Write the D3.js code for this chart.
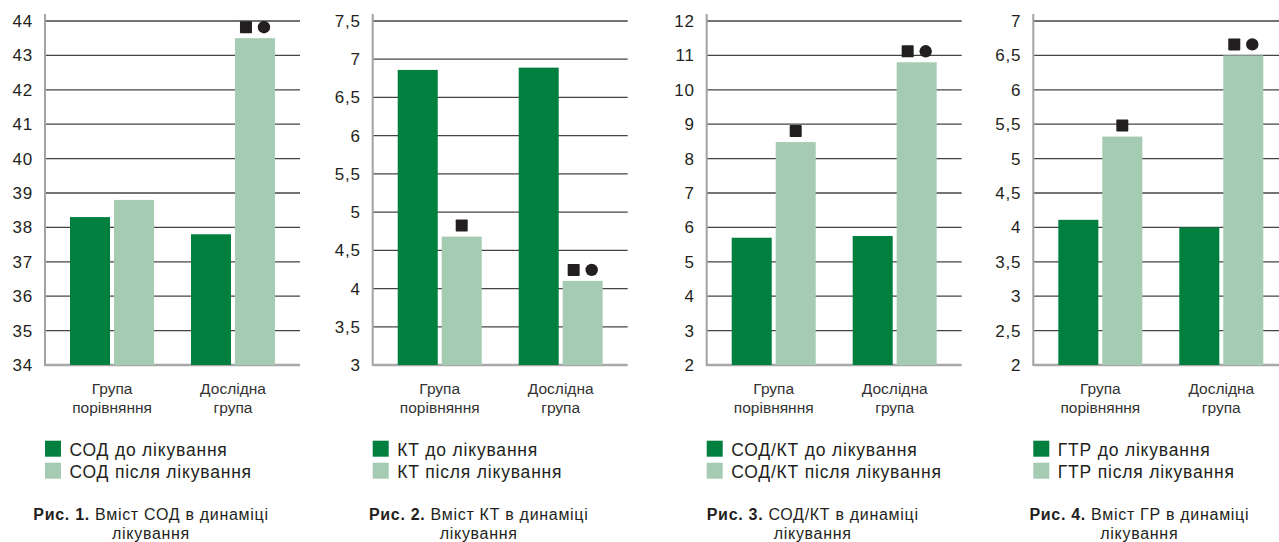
<!DOCTYPE html>
<html>
<head>
<meta charset="utf-8">
<script src="https://cdn.jsdelivr.net/npm/d3@7"></script>
<style>
    body { margin: 0; background: #fff; }
    svg text { font-family: "Liberation Sans", Arial, Helvetica, sans-serif; fill: #231f20; }
</style>
</head>
<body>
<div id="chart-container"></div>
<script>
// Дані, зчитані з рисунків
const groupLabels = [["Група", "порівняння"], ["Дослідна", "група"]];
const series = ["before", "after"];

const sodBefore = [38.3, 37.8];
const sodAfter = [38.8, 43.5];
const sodTicks = [34, 35, 36, 37, 38, 39, 40, 41, 42, 43, 44];
const sodMarks = [[], ["square", "circle"]];

const ktBefore = [6.86, 6.89];
const ktAfter = [4.68, 4.1];
const ktTicks = [3, 3.5, 4, 4.5, 5, 5.5, 6, 6.5, 7, 7.5];
const ktMarks = [["square"], ["square", "circle"]];

const ratioBefore = [5.7, 5.75];
const ratioAfter = [8.48, 10.8];
const ratioTicks = [2, 3, 4, 5, 6, 7, 8, 9, 10, 11, 12];
const ratioMarks = [["square"], ["square", "circle"]];

const gtrBefore = [4.11, 4.0];
const gtrAfter = [5.32, 6.5];
const gtrTicks = [2, 2.5, 3, 3.5, 4, 4.5, 5, 5.5, 6, 6.5, 7];
const gtrMarks = [["square"], ["square", "circle"]];

const legendLabels = [
    ["СОД до лікування", "СОД після лікування"],
    ["КТ до лікування", "КТ після лікування"],
    ["СОД/КТ до лікування", "СОД/КТ після лікування"],
    ["ГТР до лікування", "ГТР після лікування"]
];
const captionBold = ["Рис. 1.", "Рис. 2.", "Рис. 3.", "Рис. 4."];
const captionText = [
    " Вміст СОД в динаміці",
    " Вміст КТ в динаміці",
    " СОД/КТ в динаміці",
    " Вміст ГР в динаміці"
];
const captionLine2 = ["лікування", "лікування", "лікування", "лікування"];

const panels = [
    { before: sodBefore, after: sodAfter, ticks: sodTicks, marks: sodMarks },
    { before: ktBefore, after: ktAfter, ticks: ktTicks, marks: ktMarks },
    { before: ratioBefore, after: ratioAfter, ticks: ratioTicks, marks: ratioMarks },
    { before: gtrBefore, after: gtrAfter, ticks: gtrTicks, marks: gtrMarks }
];

// Розмітка
const axisX = [45, 372.7, 706.7, 1033.3];
const plotTop = 21, plotBottom = 365, plotWidth = 255;
const colors = { before: "#017f3f", after: "#a6cbb3" };

const svg = d3.select("#chart-container")
    .append("svg")
    .attr("width", 1279)
    .attr("height", 542);

const fmt = (d) => String(d).replace(".", ",");

panels.forEach((p, i) => {
    const g = svg.append("g").attr("transform", `translate(${axisX[i]},0)`);

    const y = d3.scaleLinear()
        .domain([p.ticks[0], p.ticks[p.ticks.length - 1]])
        .range([plotBottom, plotTop]);

    const x0 = d3.scalePoint()
        .domain(d3.range(groupLabels.length))
        .range([0, plotWidth])
        .padding(0.554);

    const x1 = d3.scaleBand()
        .domain(series)
        .range([-42, 42])
        .paddingInner(0.09);

    // Лінії сітки
    g.selectAll(".grid")
        .data(p.ticks.slice(1))
        .enter()
        .append("line")
        .attr("x1", 0)
        .attr("x2", plotWidth)
        .attr("y1", (d) => y(d))
        .attr("y2", (d) => y(d))
        .attr("stroke", "#444")
        .attr("stroke-width", 1.3);

    // Вертикальна вісь
    g.append("line")
        .attr("x1", 0).attr("x2", 0)
        .attr("y1", plotTop - 7).attr("y2", plotBottom + 1)
        .attr("stroke", "#a3a3a3")
        .attr("stroke-width", 2);

    // Нижня лінія
    g.append("line")
        .attr("x1", 0).attr("x2", plotWidth)
        .attr("y1", plotBottom).attr("y2", plotBottom)
        .attr("stroke", "#a8a8a8")
        .attr("stroke-width", 2.5);

    // Підписи осі Y
    g.append("g")
        .attr("transform", "translate(-12,0)")
        .call(d3.axisLeft(y).tickValues(p.ticks).tickFormat(fmt).tickSize(0).tickPadding(0))
        .call((a) => a.select(".domain").remove())
        .selectAll("text")
        .style("font-size", "17px")
        .style("letter-spacing", "0.8px")
        .attr("fill", "#231f20");

    // Стовпчики
    groupLabels.forEach((lab, gi) => {
        const vals = { before: p.before[gi], after: p.after[gi] };
        const bg = g.append("g").attr("transform", `translate(${x0(gi)},0)`);

        bg.selectAll("rect")
            .data(series)
            .enter()
            .append("rect")
            .attr("x", (s) => x1(s))
            .attr("width", x1.bandwidth())
            .attr("y", (s) => y(vals[s]))
            .attr("height", (s) => plotBottom - y(vals[s]))
            .attr("fill", (s) => colors[s]);

        // Позначки достовірності над стовпчиком "після"
        const marks = p.marks[gi];
        const cx = x1("after") + x1.bandwidth() / 2;
        const baseY = y(vals.after) - 5;
        marks.forEach((m, mi) => {
            const off = marks.length === 1 ? 0 : (mi === 0 ? -9 : 9);
            if (m === "square") {
                bg.append("rect")
                    .attr("x", cx + off - 6)
                    .attr("y", baseY - 12)
                    .attr("width", 12)
                    .attr("height", 12)
                    .attr("rx", 0.8)
                    .attr("fill", "#231f20");
            } else {
                bg.append("circle")
                    .attr("cx", cx + off)
                    .attr("cy", baseY - 6)
                    .attr("r", 6.2)
                    .attr("fill", "#231f20");
            }
        });

        // Підписи груп
        const t = bg.append("text")
            .attr("text-anchor", "middle")
            .style("font-size", "15.5px")
            .style("fill", "#333");
        lab.forEach((line, li) => {
            t.append("tspan")
                .attr("x", 0)
                .attr("y", 394 + li * 19)
                .text(line);
        });
    });

    // Легенда
    legendLabels[i].forEach((txt, li) => {
        g.append("rect")
            .attr("x", 0)
            .attr("y", 440.7 + li * 22)
            .attr("width", 16)
            .attr("height", 16)
            .attr("fill", colors[series[li]]);
        g.append("text")
            .attr("x", 24.5)
            .attr("y", 456 + li * 22)
            .style("font-size", "17.5px")
            .style("letter-spacing", "0.8px")
            .text(txt);
    });

    // Підпис рисунка
    const cap = g.append("text")
        .attr("x", 106)
        .attr("y", 520)
        .attr("text-anchor", "middle")
        .style("font-size", "16px")
        .style("letter-spacing", "0.7px");
    cap.append("tspan").style("font-weight", "bold").text(captionBold[i]);
    cap.append("tspan").text(captionText[i]);

    g.append("text")
        .attr("x", 106)
        .attr("y", 539)
        .attr("text-anchor", "middle")
        .style("font-size", "16px")
        .style("letter-spacing", "0.7px")
        .text(captionLine2[i]);
});
</script>
</body>
</html>
